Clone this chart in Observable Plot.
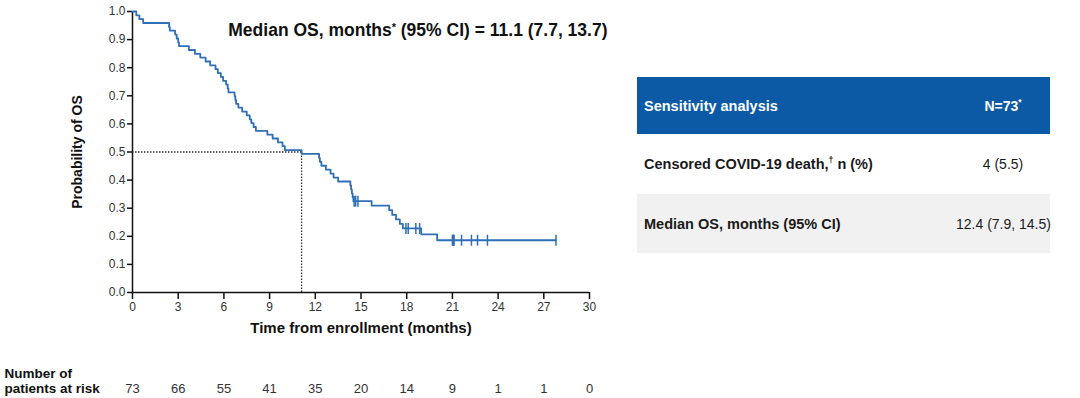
<!DOCTYPE html>
<html><head><meta charset="utf-8">
<script src="https://cdn.jsdelivr.net/npm/d3@7"></script>
<script src="https://cdn.jsdelivr.net/npm/@observablehq/plot@0.6"></script>
<style>
body{margin:0;background:#fff;font-family:"Liberation Sans",Arial,sans-serif;}
#wrap{position:relative;width:1080px;height:398px;overflow:hidden;background:#fff;}
#chart{position:absolute;left:0;top:0;}
#tbl{position:absolute;left:637px;top:77px;width:413px;border-collapse:collapse;table-layout:fixed;}
#tbl td{padding:0;font-size:14.5px;color:#1a1a1a;white-space:nowrap;}
#tbl td.l{padding-left:7px;font-weight:bold;}
#tbl td.r{text-align:center;font-size:14px;padding-left:6px;}
#tbl tr.h td{background:#0c5aa6;color:#fff;font-weight:bold;height:57px;}
#tbl tr.r1 td{height:60px;background:#fff;}
#tbl tr.r2 td{height:59px;background:#f1f1f1;}
sup{font-size:60%;vertical-align:super;line-height:0;}
</style>
</head><body>
<div id="wrap"><div id="chart"></div>
<table id="tbl">
<colgroup><col style="width:313px"><col style="width:100px"></colgroup>
<tr class="h"><td class="l">Sensitivity analysis</td><td class="r" style="font-weight:bold">N=73<sup>*</sup></td></tr>
<tr class="r1"><td class="l">Censored COVID-19 death,<sup>†</sup> n (%)</td><td class="r">4 (5.5)</td></tr>
<tr class="r2"><td class="l">Median OS, months (95% CI)</td><td class="r">12.4 (7.9, 14.5)</td></tr>
</table>
</div>
<script>
// Kaplan-Meier step points
const kmTimes = [0, 0.25, 0.45, 0.7, 2.4, 2.45, 2.8, 2.9, 3.0, 3.05, 3.7, 4.1, 4.45, 4.8, 5.1, 5.45, 5.6, 5.8, 5.95, 6.15, 6.25, 6.3, 6.7, 6.75, 6.8, 6.95, 7.2, 7.5, 7.7, 7.8, 7.95, 8.1, 8.85, 9.2, 9.55, 9.85, 10.0, 11.1, 12.25, 12.3, 12.4, 12.7, 13.0, 13.2, 13.5, 14.3, 14.35, 14.4, 14.45, 14.5, 15.7, 16.85, 17.05, 17.3, 17.55, 17.75, 18.95, 20.0, 27.8];
const kmSurv = [1.0, 0.986, 0.973, 0.959, 0.945, 0.932, 0.918, 0.904, 0.890, 0.877, 0.863, 0.849, 0.836, 0.822, 0.808, 0.795, 0.781, 0.767, 0.753, 0.740, 0.726, 0.712, 0.699, 0.685, 0.671, 0.658, 0.644, 0.630, 0.616, 0.603, 0.589, 0.575, 0.562, 0.548, 0.534, 0.521, 0.507, 0.493, 0.479, 0.465, 0.451, 0.437, 0.423, 0.409, 0.395, 0.381, 0.367, 0.353, 0.339, 0.325, 0.309, 0.293, 0.276, 0.260, 0.244, 0.228, 0.207, 0.186, 0.186];
// Censor marks
const censorTimes = [14.55, 14.65, 14.8, 17.95, 18.1, 18.6, 18.85, 21.0, 21.05, 21.08, 21.1, 21.6, 22.25, 22.65, 23.3, 27.8];
const censorSurv = [0.325, 0.325, 0.325, 0.228, 0.228, 0.228, 0.228, 0.186, 0.186, 0.186, 0.186, 0.186, 0.186, 0.186, 0.186, 0.186];
// Median OS
const medianTime = [11.1];
const medianProb = [0.5];
// Number at risk
const riskTimes = [0, 3, 6, 9, 12, 15, 18, 21, 24, 27, 30];
const riskCounts = [73, 66, 55, 41, 35, 20, 14, 9, 1, 1, 0];
// Tick labels
const xTicks = [0, 3, 6, 9, 12, 15, 18, 21, 24, 27, 30];
const yTicks = [0, 0.1, 0.2, 0.3, 0.4, 0.5, 0.6, 0.7, 0.8, 0.9, 1.0];
const titleText = ["Median OS, months* (95% CI) = 11.1 (7.7, 13.7)"];
const riskLabel = ["Number of\npatients at risk"];

const km = kmTimes.map((t, i) => ({t, s: kmSurv[i]}));
const cens = censorTimes.map((t, i) => ({t, s: censorSurv[i]}));
const med = medianTime.map((t, i) => ({t, s: medianProb[i]}));
const risk = riskTimes.map((t, i) => ({t, n: String(riskCounts[i])}));

const blue = "#2e6fb8";
const vtick = {draw(ctx, size) { const r = Math.sqrt(size / Math.PI); ctx.moveTo(0, -r); ctx.lineTo(0, r); }};

const chart = Plot.plot({
  width: 620, height: 398,
  marginLeft: 132, marginRight: 31, marginTop: 11, marginBottom: 106,
  style: {fontFamily: "'Liberation Sans', Arial, sans-serif", fontSize: "12px", color: "#333", background: "#fff"},
  x: {domain: [0, 30]},
  y: {domain: [0, 1]},
  marks: [
    Plot.axisX({ticks: xTicks, tickSize: 7, tickPadding: 3, stroke: "#111", strokeWidth: 1.5, fontSize: 12, fill: "#333",
      label: "Time from enrollment (months)", labelAnchor: "center", labelArrow: "none", labelOffset: 40}),
    Plot.axisY({ticks: yTicks, tickFormat: d3.format(".1f"), tickSize: 5, tickPadding: 2, stroke: "#111", strokeWidth: 1.5, fontSize: 12, fill: "#333",
      label: "Probability of OS", labelAnchor: "center", labelArrow: "none", labelOffset: 60}),
    Plot.ruleY(med, {y: "s", x1: 0, x2: "t", stroke: "#333", strokeWidth: 1.3, strokeDasharray: "1.5,1.5"}),
    Plot.ruleX(med, {x: "t", y1: 0, y2: "s", stroke: "#333", strokeWidth: 1.3, strokeDasharray: "1.5,1.5"}),
    Plot.ruleX([0], {stroke: "#111", strokeWidth: 1.5}),
    Plot.ruleY([0], {stroke: "#111", strokeWidth: 1.5}),
    Plot.line(km, {x: "t", y: "s", curve: "step-after", stroke: blue, strokeWidth: 1.8}),
    Plot.dot(cens, {x: "t", y: "s", r: 5.5, symbol: vtick, stroke: blue, strokeWidth: 1.5, fill: "none"}),
    Plot.text(titleText, {frameAnchor: "top-right", dx: 18, dy: 19, textAnchor: "end", lineAnchor: "middle", fontWeight: "bold", fontSize: 17.5, fill: "#111"}),
    Plot.text(risk, {x: "t", text: "n", frameAnchor: "bottom", dy: 96, lineAnchor: "middle", fontSize: 13, fill: "#333"}),
    Plot.text(riskLabel, {frameAnchor: "bottom-left", dx: -128, dy: 88, textAnchor: "start", lineAnchor: "middle", lineHeight: 1.15, fontWeight: "bold", fontSize: 13.5, fill: "#111"})
  ]
});
document.getElementById("chart").append(chart);
chart.querySelectorAll("[aria-label='x-axis label'] text").forEach(t => { t.setAttribute("font-weight", "bold"); t.setAttribute("fill", "#111"); t.setAttribute("font-size", "15"); });
chart.querySelectorAll("[aria-label='y-axis label'] text").forEach(t => { t.setAttribute("font-weight", "bold"); t.setAttribute("fill", "#111"); t.setAttribute("font-size", "14"); });
// superscript asterisk in the title
chart.querySelectorAll("[aria-label='text'] text").forEach(t => {
  if (t.textContent === titleText[0]) {
    const parts = titleText[0].split("*");
    t.textContent = "";
    const ns = "http://www.w3.org/2000/svg";
    const a = document.createElementNS(ns, "tspan"); a.textContent = parts[0];
    const s = document.createElementNS(ns, "tspan"); s.textContent = "*"; s.setAttribute("font-size", "11"); s.setAttribute("dy", "-5");
    const b = document.createElementNS(ns, "tspan"); b.textContent = parts[1]; b.setAttribute("dy", "5");
    t.append(a, s, b);
  }
});
</script>
</body></html>
